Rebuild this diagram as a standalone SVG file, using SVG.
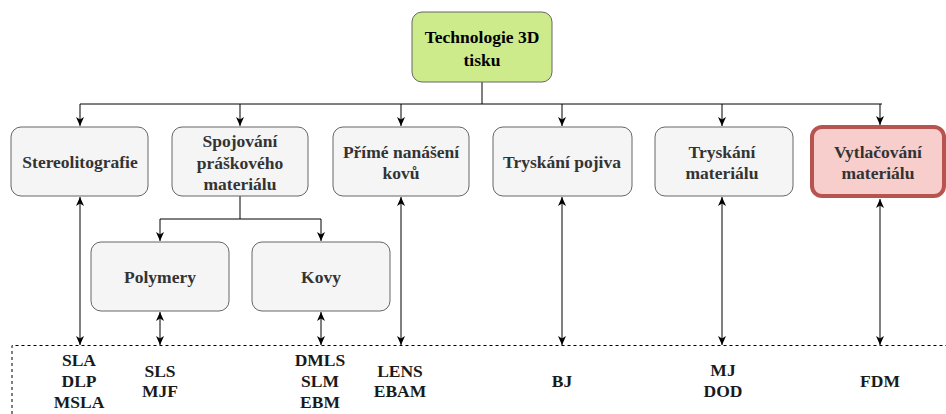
<svg xmlns="http://www.w3.org/2000/svg" width="946" height="414" viewBox="0 0 946 414">
<defs>
<marker id="arr" markerUnits="userSpaceOnUse" markerWidth="10" markerHeight="10" refX="9" refY="5" orient="auto-start-reverse" viewBox="0 0 10 10">
<path d="M0,1 L9,5 L0,9 L2.5,5 Z" fill="#000"/>
</marker>
<style>
.box{fill:#f5f5f5;stroke:#666666;stroke-width:1}
.t{font-family:"Liberation Serif","Times New Roman",serif;font-weight:bold;font-size:17.5px;text-anchor:middle;fill:#333333}
.lbl{font-family:"Liberation Serif","Times New Roman",serif;font-weight:bold;font-size:17.5px;text-anchor:middle;fill:#1a1a1a}
.c{fill:none;stroke:#000;stroke-width:1}
</style>
</defs>
<rect width="946" height="414" fill="#fff"/>
<g id="connectors">
<path class="c" d="M482,82 V104"/>
<path class="c" d="M80,104 H882"/>
<path class="c" d="M80,104 V126" marker-end="url(#arr)"/>
<path class="c" d="M240,104 V126" marker-end="url(#arr)"/>
<path class="c" d="M401,104 V126" marker-end="url(#arr)"/>
<path class="c" d="M562,104 V126" marker-end="url(#arr)"/>
<path class="c" d="M722,104 V126" marker-end="url(#arr)"/>
<path class="c" d="M880,104 V125" marker-end="url(#arr)"/>
<path class="c" d="M240,196 V219 H160 V241" marker-end="url(#arr)"/>
<path class="c" d="M240,219 H321 V241" marker-end="url(#arr)"/>
<path class="c" d="M80,197 V345" marker-start="url(#arr)" marker-end="url(#arr)"/>
<path class="c" d="M160,312 V345" marker-start="url(#arr)" marker-end="url(#arr)"/>
<path class="c" d="M321,312 V345" marker-start="url(#arr)" marker-end="url(#arr)"/>
<path class="c" d="M401,197 V345" marker-start="url(#arr)" marker-end="url(#arr)"/>
<path class="c" d="M562,197 V345" marker-start="url(#arr)" marker-end="url(#arr)"/>
<path class="c" d="M722,197 V345" marker-start="url(#arr)" marker-end="url(#arr)"/>
<path class="c" d="M880,199 V345" marker-start="url(#arr)" marker-end="url(#arr)"/>
</g>
<g id="methods-area">
<path d="M12,414 V345.5 H946" fill="none" stroke="#000" stroke-width="1" stroke-dasharray="3,3"/>
</g>
<g id="root">
<rect x="412" y="12" width="140" height="70" rx="10" fill="#cdeb8b" stroke="#666666"/>
<text class="t" style="fill:#000" x="482" y="43">Technologie 3D</text>
<text class="t" style="fill:#000" x="482" y="66">tisku</text>
</g>
<g id="stereolitografie">
<rect class="box" x="11" y="127" width="137" height="69" rx="10"/>
<text class="t" x="80" y="168">Stereolitografie</text>
</g>
<g id="spojovani">
<rect class="box" x="172" y="127" width="136" height="69" rx="10"/>
<text class="t" x="240" y="147">Spojování</text>
<text class="t" x="240" y="168.5">práškového</text>
<text class="t" x="240" y="190">materiálu</text>
</g>
<g id="prime">
<rect class="box" x="333" y="127" width="136" height="69" rx="10"/>
<text class="t" x="401" y="158">Přímé nanášení</text>
<text class="t" x="401" y="179">kovů</text>
</g>
<g id="tryskani-pojiva">
<rect class="box" x="493" y="127" width="139" height="69" rx="10"/>
<text class="t" x="562" y="168">Tryskání pojiva</text>
</g>
<g id="tryskani-materialu">
<rect class="box" x="655" y="127" width="138" height="69" rx="10"/>
<text class="t" x="722" y="158">Tryskání</text>
<text class="t" x="722" y="179">materiálu</text>
</g>
<g id="vytlacovani">
<rect x="812" y="127" width="132" height="69" rx="10" fill="#f8cecc" stroke="#b85450" stroke-width="4"/>
<text class="t" x="878" y="158">Vytlačování</text>
<text class="t" x="878" y="179">materiálu</text>
</g>
<g id="polymery">
<rect class="box" x="91" y="242" width="138" height="69" rx="10"/>
<text class="t" x="160" y="283">Polymery</text>
</g>
<g id="kovy">
<rect class="box" x="252" y="242" width="138" height="69" rx="10"/>
<text class="t" x="321" y="283">Kovy</text>
</g>
<g id="labels">
<text class="lbl" x="79" y="366">SLA</text>
<text class="lbl" x="79" y="387">DLP</text>
<text class="lbl" x="79" y="408">MSLA</text>
<text class="lbl" x="160" y="377">SLS</text>
<text class="lbl" x="160" y="397">MJF</text>
<text class="lbl" x="320" y="366">DMLS</text>
<text class="lbl" x="320" y="387">SLM</text>
<text class="lbl" x="320" y="408">EBM</text>
<text class="lbl" x="400" y="377">LENS</text>
<text class="lbl" x="400" y="397">EBAM</text>
<text class="lbl" x="562" y="387">BJ</text>
<text class="lbl" x="723" y="376">MJ</text>
<text class="lbl" x="723" y="397">DOD</text>
<text class="lbl" x="880" y="387">FDM</text>
</g>
</svg>
